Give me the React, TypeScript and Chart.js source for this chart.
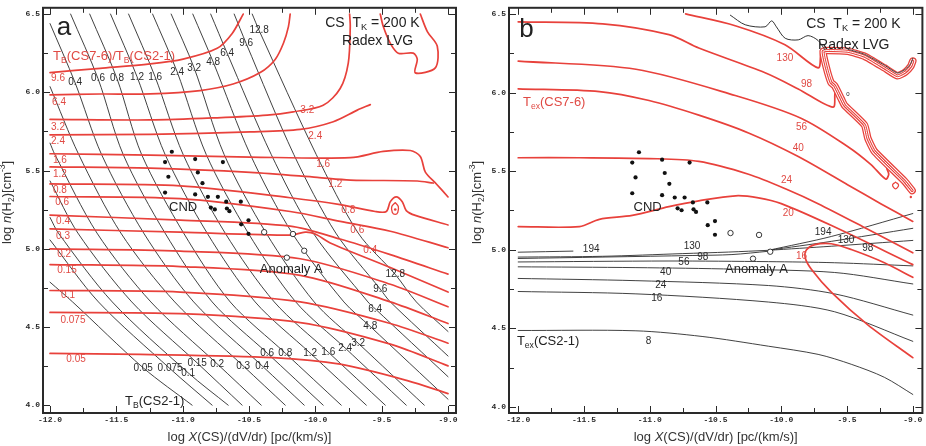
import React, { useEffect, useRef } from 'react';
import { Chart, registerables } from 'chart.js';

Chart.register(...registerables);

type Pt = [number, number];
type Lbl = [string, number, number];

const FONT = "'Liberation Sans', Arial, sans-serif";
const MONO = "'Liberation Mono', 'DejaVu Sans Mono', monospace";
const RED = '#e8413b';
const RED_TEXT = '#e04a44';
const INK = '#2a2a2a';
const LINE_INK = '#2c2c2c';

// ===== axis ranges and ticks =====
const A_X_RANGE: Pt = [-12.053, -8.94];
const A_Y_RANGE: Pt = [3.95, 6.54];
const B_X_RANGE: Pt = [-12.07, -8.927];
const B_Y_RANGE: Pt = [3.961, 6.539];
const TICK_STEP = 0.25;
const LABEL_STEP = 0.5;
const X_TITLE = 'log *X*(CS)/(dV/dr) [pc/(km/s)]';
const Y_TITLE = 'log *n*(H_{2})[cm^{-3}]';

// ===== panel a : T_B(CS2-1) contours (black) =====
const A_TB_0_05: Pt[] = [[-12, 4.786], [-11.83, 4.66], [-11.298, 4.239], [-10.929, 4.0]];
const A_TB_0_075: Pt[] = [[-12, 5.056], [-11.635, 4.66], [-11.095, 4.233], [-10.778, 4.0]];
const A_TB_0_1: Pt[] = [[-12, 5.2], [-11.937, 5.1], [-11.531, 4.66], [-10.959, 4.207], [-10.657, 4.0]];
const A_TB_0_15: Pt[] = [[-12, 5.433], [-11.79, 5.1], [-11.384, 4.66], [-10.891, 4.27], [-10.552, 4.0]];
const A_TB_0_2: Pt[] = [[-12, 5.675], [-11.964, 5.603], [-11.646, 5.1], [-11.24, 4.66], [-10.74, 4.264], [-10.408, 4.0]];
const A_TB_0_3: Pt[] = [[-12, 6.036], [-11.784, 5.603], [-11.466, 5.1], [-11.06, 4.66], [-10.544, 4.251], [-10.227, 4.0]];
const A_TB_0_4: Pt[] = [[-12, 6.439], [-11.811, 6.061], [-11.612, 5.603], [-11.294, 5.1], [-10.917, 4.66], [-10.401, 4.251], [-10.084, 4.0]];
const A_TB_0_6: Pt[] = [[-11.845, 6.5], [-11.638, 6.087], [-11.449, 5.603], [-11.133, 5.1], [-10.778, 4.66], [-10.363, 4.333], [-9.941, 4.0]];
const A_TB_0_8: Pt[] = [[-11.701, 6.5], [-11.495, 6.087], [-11.31, 5.603], [-10.993, 5.1], [-10.642, 4.66], [-10.227, 4.333], [-9.805, 4.0]];
const A_TB_1_2: Pt[] = [[-11.544, 6.5], [-11.344, 6.099], [-11.133, 5.603], [-10.816, 5.1], [-10.454, 4.66], [-10.039, 4.333], [-9.616, 4.0]];
const A_TB_1_6: Pt[] = [[-11.408, 6.5], [-11.208, 6.099], [-10.997, 5.603], [-10.68, 5.1], [-10.31, 4.66], [-9.903, 4.339], [-9.473, 4.0]];
const A_TB_2_4: Pt[] = [[-11.227, 6.5], [-11.042, 6.131], [-10.823, 5.603], [-10.506, 5.1], [-10.148, 4.66], [-9.775, 4.365], [-9.315, 4.0]];
const A_TB_3_2: Pt[] = [[-11.087, 6.5], [-10.914, 6.156], [-10.688, 5.603], [-10.371, 5.1], [-10.009, 4.66], [-9.677, 4.396], [-9.179, 4.0]];
const A_TB_4_8: Pt[] = [[-10.924, 6.5], [-10.77, 6.193], [-10.491, 5.603], [-10.175, 5.1], [-9.785, 4.66], [-9.586, 4.503], [-9.0, 4.038]];
const A_TB_6_4: Pt[] = [[-10.789, 6.5], [-10.665, 6.25], [-10.333, 5.603], [-10.016, 5.1], [-9.604, 4.66], [-9.549, 4.616], [-9.0, 4.182]];
const A_TB_9_6: Pt[] = [[-10.612, 6.5], [-10.522, 6.313], [-10.163, 5.603], [-9.846, 5.1], [-9.511, 4.742], [-9.435, 4.66], [-9.0, 4.314]];
const A_TB_12_8: Pt[] = [[-10.476, 6.5], [-10.424, 6.395], [-9.994, 5.603], [-9.677, 5.1], [-9.398, 4.836], [-9.239, 4.66], [-9.0, 4.471]];

// ===== panel a : T_B(CS7-6)/T_B(CS2-1) contours (red) =====
const A_R_9_6: Pt[] = [[-12, 6.126], [-11.623, 6.153], [-11.246, 6.181], [-10.997, 6.212], [-10.74, 6.281], [-10.627, 6.376], [-10.544, 6.5]];
const A_R_6_4: Pt[] = [[-12, 5.984], [-11.623, 5.989], [-11.246, 5.99], [-10.869, 6.011], [-10.62, 6.053], [-10.416, 6.126], [-10.303, 6.21], [-10.24, 6.315], [-10.203, 6.42], [-10.19, 6.5]];
const A_R_3_2: Pt[] = [[-12, 5.827], [-11.246, 5.823], [-10.74, 5.837], [-10.363, 5.854], [-10.167, 5.875], [-9.941, 5.917], [-9.813, 6.024], [-9.752, 6.187], [-9.737, 6.42], [-9.742, 6.5]];
const A_R_2_4: Pt[] = [[-12, 5.728], [-11.246, 5.731], [-10.491, 5.747], [-10.114, 5.763], [-9.865, 5.812], [-9.684, 5.886], [-9.586, 5.921]];
const A_R_TOP: Pt[] = [[-9.511, 6.5], [-9.488, 6.42], [-9.435, 6.313], [-9.375, 6.25], [-9.262, 6.25], [-9.232, 6.212], [-9.247, 6.124], [-9.096, 6.156], [-9.081, 6.294], [-9.156, 6.388], [-9.209, 6.5]];
const A_R_1_6: Pt[] = [[-12, 5.607], [-11.246, 5.598], [-10.491, 5.586], [-9.737, 5.582], [-9.488, 5.622], [-9.284, 5.628], [-9.209, 5.59], [-9.171, 5.49], [-9.088, 5.414], [-9.0, 5.331]];
const A_R_1_2: Pt[] = [[-12, 5.523], [-11.246, 5.515], [-10.491, 5.488], [-9.986, 5.456], [-9.737, 5.439], [-9.232, 5.433], [-9.111, 5.42]];
const A_R_0_8: Pt[] = [[-12, 5.414], [-11.019, 5.402], [-10.19, 5.326], [-9.813, 5.282], [-9.549, 5.238], [-9.465, 5.238], [-9.435, 5.301], [-9.39, 5.332], [-9.345, 5.301], [-9.315, 5.244], [-9.247, 5.213], [-9.0, 5.152]];
const A_R_LOOP: Pt[] = [[-9.398, 5.295], [-9.375, 5.27], [-9.379, 5.232], [-9.398, 5.219], [-9.42, 5.232], [-9.424, 5.27], [-9.398, 5.295]];
const A_R_LOOP_DOT: Pt[] = [[-9.398, 5.251]];
const A_R_0_6: Pt[] = [[-12, 5.334], [-11.019, 5.32], [-10.19, 5.238], [-9.813, 5.175], [-9.435, 5.112], [-9.0, 5.006]];
const A_R_0_4: Pt[] = [[-12, 5.215], [-11.019, 5.183], [-10.19, 5.144], [-9.813, 5.062], [-9.435, 4.962], [-9.0, 4.838]];
const A_R_0_3: Pt[] = [[-12, 5.127], [-11.019, 5.106], [-10.19, 5.087], [-10.077, 5.106], [-10.001, 5.094], [-9.888, 5.037], [-9.435, 4.88], [-9.0, 4.723]];
const A_R_0_2: Pt[] = [[-12, 4.999], [-11.019, 4.985], [-10.114, 4.936], [-9.435, 4.773], [-9.0, 4.629]];
const A_R_0_15: Pt[] = [[-12, 4.899], [-11.019, 4.886], [-10.114, 4.83], [-9.435, 4.66], [-9.0, 4.522]];
const A_R_0_1: Pt[] = [[-12, 4.733], [-11.019, 4.723], [-10.114, 4.66], [-9.435, 4.522], [-9.0, 4.396]];
const A_R_0_075: Pt[] = [[-12, 4.593], [-11.019, 4.585], [-10.114, 4.528], [-9.435, 4.39], [-9.0, 4.251]];
const A_R_0_05: Pt[] = [[-12, 4.331], [-11.321, 4.325], [-10.318, 4.304], [-9.813, 4.262], [-9.307, 4.157], [-9.0, 4.074]];

// ===== observed positions (both panels) =====
const CND_POINTS: Pt[] = [
  [-11.082, 5.62], [-11.133, 5.554], [-10.906, 5.573], [-10.697, 5.554], [-11.108, 5.46],
  [-10.886, 5.488], [-10.851, 5.419], [-11.133, 5.359], [-10.906, 5.347], [-10.81, 5.332],
  [-10.735, 5.332], [-10.672, 5.301], [-10.562, 5.301], [-10.788, 5.263], [-10.758, 5.251],
  [-10.667, 5.257], [-10.648, 5.24], [-10.504, 5.182], [-10.559, 5.156], [-10.504, 5.095],
];
const ANOMALY_POINTS: Pt[] = [[-10.386, 5.106], [-10.169, 5.094], [-10.084, 4.987], [-10.215, 4.943]];

// ===== panel b : T_ex(CS7-6) contours (red) =====
const B_R_130: Pt[] = [[-10.727, 6.5], [-10.35, 6.425], [-9.972, 6.304], [-9.72, 6.157], [-9.7, 6.25]];
const B_R_98: Pt[] = [[-12, 6.45], [-11.358, 6.437], [-10.854, 6.368], [-10.627, 6.283], [-10.123, 6.126], [-9.871, 6.023], [-9.607, 5.907], [-9.592, 5.993]];
const B_R_56: Pt[] = [[-12, 6.2], [-11.105, 6.148], [-10.35, 5.981], [-9.846, 5.835], [-9.493, 5.655], [-9.32, 5.543], [-9.206, 5.449], [-9.183, 5.48], [-9.198, 5.517]];
const B_R_40: Pt[] = [[-12, 6.023], [-11.383, 6.006], [-11.005, 5.949], [-10.627, 5.856], [-10.249, 5.743], [-9.871, 5.593], [-9.493, 5.412], [-9.244, 5.293], [-9.0, 5.18]];
const B_R_24: Pt[] = [[-12, 5.585], [-11.534, 5.585], [-11.005, 5.58], [-10.627, 5.562], [-10.249, 5.48], [-9.947, 5.38], [-9.72, 5.293], [-9.342, 5.13], [-9.0, 4.98]];
const B_R_20: Pt[] = [[-12, 5.147], [-11.534, 5.147], [-11.383, 5.193], [-11.133, 5.218], [-10.854, 5.274], [-10.627, 5.311], [-10.347, 5.343], [-10.173, 5.33], [-10.0, 5.293], [-9.622, 5.155], [-9.0, 4.905]];
const B_R_16: Pt[] = [[-9.0, 4.824], [-9.216, 4.917], [-9.468, 5.001], [-9.62, 5.038], [-9.745, 5.032], [-9.808, 4.999], [-9.818, 4.949], [-9.771, 4.876], [-9.62, 4.73], [-9.342, 4.522], [-9.0, 4.313]];
const B_R_BAND: Pt[] = [[-9.005, 5.376], [-9.065, 5.438], [-9.292, 5.626], [-9.342, 5.71], [-9.367, 5.793], [-9.518, 5.918], [-9.544, 5.96], [-9.594, 6.043], [-9.622, 6.064], [-9.66, 6.168], [-9.682, 6.262], [-9.645, 6.268], [-9.493, 6.262], [-9.367, 6.231], [-9.216, 6.157], [-9.116, 6.106], [-9.056, 6.131], [-9.015, 6.168], [-9.0, 6.2]];
const B_BAND_EDGE: Pt[] = [[-9.493, 6.275], [-9.367, 6.243], [-9.216, 6.174], [-9.116, 6.124], [-9.056, 6.148], [-9.015, 6.185], [-9.0, 6.218]];
const B_R_LOOP: Pt[] = [[-9.131, 5.43], [-9.108, 5.412], [-9.131, 5.387], [-9.154, 5.412], [-9.131, 5.43]];
const B_R_DOT: Pt[] = [[-9.015, 5.335]];

// ===== panel b : T_ex(CS2-1) contours (black) =====
const B_K_WIGGLE: Pt[] = [[-10.387, 6.492], [-10.274, 6.431], [-10.123, 6.418], [-10.073, 6.456], [-10.037, 6.418], [-9.97, 6.345], [-9.871, 6.335], [-9.796, 6.362], [-9.72, 6.331], [-9.669, 6.273]];
const B_K_194L: Pt[] = [[-12, 4.984], [-11.584, 4.991]];
const B_K_130: Pt[] = [[-12, 4.953], [-11.358, 4.958], [-10.753, 4.975], [-10.4, 4.985], [-10.098, 4.996]];
const B_K_98: Pt[] = [[-12, 4.944], [-10.678, 4.963], [-10.375, 4.969], [-10.098, 4.99]];
const B_K_56: Pt[] = [[-12, 4.922], [-10.854, 4.928], [-10.098, 4.924], [-9.594, 4.917], [-9.0, 4.897]];
const B_K_40: Pt[] = [[-12, 4.891], [-11.105, 4.886], [-10.35, 4.876], [-9.594, 4.855], [-9.0, 4.782]];
const B_K_24: Pt[] = [[-12, 4.817], [-11.105, 4.803], [-10.098, 4.772], [-9.594, 4.719], [-9.0, 4.584]];
const B_K_16: Pt[] = [[-12, 4.734], [-11.105, 4.719], [-10.098, 4.667], [-9.594, 4.605], [-9.0, 4.417]];
const B_K_8: Pt[] = [[-12, 4.486], [-11.105, 4.484], [-10.602, 4.448], [-10.098, 4.386], [-9.72, 4.334], [-9.468, 4.271], [-9.216, 4.188], [-9.0, 4.079]];
const B_K_194R: Pt[] = [[-10.098, 4.996], [-9.62, 5.084], [-9.0, 5.23]];
const B_K_130R: Pt[] = [[-10.098, 4.996], [-9.62, 5.053], [-9.0, 5.136]];
const B_K_98R: Pt[] = [[-10.098, 4.996], [-9.62, 5.022], [-9.0, 5.059]];

// ===== labels =====
const A_TB_LABELS: Lbl[] = [
  ['0.4', -11.811, 6.061], ['0.6', -11.638, 6.087], ['0.8', -11.495, 6.087], ['1.2', -11.344, 6.099],
  ['1.6', -11.208, 6.099], ['2.4', -11.042, 6.131], ['3.2', -10.914, 6.156], ['4.8', -10.77, 6.193],
  ['6.4', -10.665, 6.25], ['9.6', -10.522, 6.313], ['12.8', -10.424, 6.395],
  ['0.05', -11.298, 4.239], ['0.075', -11.095, 4.233], ['0.1', -10.959, 4.207], ['0.15', -10.891, 4.27],
  ['0.2', -10.74, 4.264], ['0.3', -10.544, 4.251], ['0.4', -10.401, 4.251], ['0.6', -10.363, 4.333],
  ['0.8', -10.227, 4.333], ['1.2', -10.039, 4.333], ['1.6', -9.903, 4.339], ['2.4', -9.775, 4.365],
  ['3.2', -9.677, 4.396], ['4.8', -9.586, 4.503], ['6.4', -9.549, 4.616], ['9.6', -9.511, 4.742],
  ['12.8', -9.398, 4.836],
];
const A_RATIO_LABELS: Lbl[] = [
  ['9.6', -11.94, 6.087], ['6.4', -11.932, 5.936], ['3.2', -11.94, 5.779], ['2.4', -11.94, 5.684],
  ['1.6', -11.925, 5.565], ['1.2', -11.925, 5.477], ['0.8', -11.925, 5.376], ['0.6', -11.909, 5.295],
  ['0.4', -11.902, 5.175], ['0.3', -11.902, 5.081], ['0.2', -11.894, 4.962], ['0.15', -11.872, 4.861],
  ['0.1', -11.864, 4.704], ['0.075', -11.827, 4.541], ['0.05', -11.804, 4.295],
  ['3.2', -10.061, 5.886], ['2.4', -10.001, 5.722], ['1.6', -9.941, 5.54], ['1.2', -9.85, 5.414],
  ['0.8', -9.752, 5.244], ['0.6', -9.684, 5.119], ['0.4', -9.586, 4.993],
];
const A_LETTER: Lbl[] = [['a', -11.894, 6.41]];
const A_HEADER: Lbl[] = [['CS  T_{K} = 200 K', -9.926, 6.445], ['Radex LVG', -9.8, 6.325]];
const A_NOTES: Lbl[] = [['CND', -10.997, 5.263], ['Anomaly A', -10.182, 4.867]];
const A_BLACK_NAME: Lbl[] = [['T_{B}(CS2-1)', -11.434, 4.025]];
const A_RED_NAME: Lbl[] = [['T_{B}(CS7-6)/T_{B}(CS2-1)', -11.977, 6.231]];

const B_TEX21_LABELS: Lbl[] = [
  ['194', -11.445, 5.005], ['130', -10.678, 5.022], ['98', -10.597, 4.955], ['56', -10.74, 4.917],
  ['40', -10.879, 4.855], ['24', -10.916, 4.772], ['16', -10.947, 4.688], ['8', -11.01, 4.417],
  ['194', -9.682, 5.109], ['130', -9.508, 5.063], ['98', -9.342, 5.011],
];
const B_TEX76_LABELS: Lbl[] = [
  ['130', -9.972, 6.22], ['98', -9.808, 6.054], ['56', -9.846, 5.782], ['40', -9.871, 5.647],
  ['24', -9.96, 5.443], ['20', -9.947, 5.23], ['16', -9.846, 4.959],
];
const B_SMALL: Lbl[] = [['0', -9.493, 5.991]];
const B_LETTER: Lbl[] = [['b', -11.938, 6.4]];
const B_HEADER: Lbl[] = [['CS  T_{K} = 200 K', -9.811, 6.435], ['Radex LVG', -9.72, 6.3]];
const B_NOTES: Lbl[] = [['CND', -11.016, 5.268], ['Anomaly A', -10.189, 4.876]];
const B_BLACK_NAME: Lbl[] = [['T_{ex}(CS2-1)', -12.01, 4.417]];
const B_RED_NAME: Lbl[] = [['T_{ex}(CS7-6)', -11.964, 5.939]];

// ===== helpers =====
type Part = { t: string; k: 'n' | 'sub' | 'sup' | 'it' };
function parseRich(s: string): Part[] {
  const parts: Part[] = [];
  const re = /_\{([^}]*)\}|\^\{([^}]*)\}|\*([^*]*)\*/g;
  let last = 0;
  let m: RegExpExecArray | null;
  while ((m = re.exec(s))) {
    if (m.index > last) parts.push({ t: s.slice(last, m.index), k: 'n' });
    if (m[1] !== undefined) parts.push({ t: m[1], k: 'sub' });
    else if (m[2] !== undefined) parts.push({ t: m[2], k: 'sup' });
    else parts.push({ t: m[3], k: 'it' });
    last = re.lastIndex;
  }
  if (last < s.length) parts.push({ t: s.slice(last), k: 'n' });
  return parts;
}

function drawRich(ctx: CanvasRenderingContext2D, s: string, x: number, y: number, size: number,
  color: string, align: 'left' | 'center' | 'right', rotate = false) {
  const parts = parseRich(s);
  const fontFor = (k: Part['k']) => {
    const sz = k === 'sub' || k === 'sup' ? size * 0.66 : size;
    return `${k === 'it' ? 'italic ' : ''}${sz}px ${FONT}`;
  };
  let w = 0;
  for (const p of parts) { ctx.font = fontFor(p.k); w += ctx.measureText(p.t).width; }
  ctx.save();
  ctx.translate(x, y);
  if (rotate) ctx.rotate(-Math.PI / 2);
  let cx = align === 'center' ? -w / 2 : align === 'right' ? -w : 0;
  ctx.fillStyle = color;
  ctx.textBaseline = 'middle';
  ctx.textAlign = 'left';
  for (const p of parts) {
    ctx.font = fontFor(p.k);
    const dy = p.k === 'sub' ? size * 0.32 : p.k === 'sup' ? -size * 0.32 : 0;
    ctx.fillText(p.t, cx, dy);
    cx += ctx.measureText(p.t).width;
  }
  ctx.restore();
}

const toXY = (pts: Pt[]) => pts.map(([x, y]) => ({ x, y }));

function line(pts: Pt[], color: string, width: number, tension = 0.3): any {
  return {
    data: toXY(pts), showLine: true, borderColor: color, borderWidth: width, pointRadius: 0,
    pointHoverRadius: 0, tension, fill: false, borderJoinStyle: 'round', borderCapStyle: 'round',
  };
}
function dots(pts: Pt[], r: number, fill: string, stroke: string, bw: number): any {
  return {
    data: toXY(pts), showLine: false, pointRadius: r, pointHoverRadius: r,
    backgroundColor: fill, borderColor: stroke, borderWidth: bw,
  };
}

const isMultiple = (v: number, step: number) => Math.abs(v / step - Math.round(v / step)) < 1e-6;

type TextGroup = { items: Lbl[]; size: number; color: string; align: 'left' | 'center' | 'right' };
type Spec = {
  xRange: Pt; yRange: Pt; datasets: any[]; texts: TextGroup[];
  padding: { left: number; right: number; top: number; bottom: number };
  yAxisWidth: number; yTitleGap: number;
};

function buildConfig(spec: Spec): any {
  const framePlugin = {
    id: 'frameTicks',
    afterDatasetsDraw(chart: any) {
      const { ctx, chartArea: a, scales } = chart;
      ctx.save();
      ctx.strokeStyle = INK;
      ctx.lineWidth = 1;
      ctx.beginPath();
      for (const t of scales.x.ticks) {
        const px = Math.round(scales.x.getPixelForValue(t.value)) + 0.5;
        const len = isMultiple(t.value, LABEL_STEP) ? 7 : 5;
        ctx.moveTo(px, a.bottom); ctx.lineTo(px, a.bottom - len);
        ctx.moveTo(px, a.top); ctx.lineTo(px, a.top + len);
      }
      for (const t of scales.y.ticks) {
        const py = Math.round(scales.y.getPixelForValue(t.value)) + 0.5;
        const len = isMultiple(t.value, LABEL_STEP) ? 7 : 5;
        ctx.moveTo(a.left, py); ctx.lineTo(a.left + len, py);
        ctx.moveTo(a.right, py); ctx.lineTo(a.right - len, py);
      }
      ctx.stroke();
      ctx.lineWidth = 2;
      ctx.strokeRect(a.left, a.top, a.right - a.left, a.bottom - a.top);
      ctx.restore();
    },
  };
  const textPlugin = {
    id: 'texts',
    afterDraw(chart: any) {
      const { ctx, chartArea: a, scales } = chart;
      ctx.save();
      for (const g of spec.texts) {
        for (const [t, x, y] of g.items) {
          drawRich(ctx, t, scales.x.getPixelForValue(x), scales.y.getPixelForValue(y), g.size, g.color, g.align);
        }
      }
      drawRich(ctx, X_TITLE, (a.left + a.right) / 2, chart.height - 9, 13, '#333', 'center');
      drawRich(ctx, Y_TITLE, a.left - spec.yTitleGap, (a.top + a.bottom) / 2 - 8, 13, '#333', 'center', true);
      ctx.restore();
    },
  };
  const tickFont = { family: MONO, size: 8, weight: 'bold' as const };
  const fmt = (v: any) => (isMultiple(Number(v), LABEL_STEP) ? Number(v).toFixed(1) : '');
  return {
    type: 'scatter',
    data: { datasets: spec.datasets },
    options: {
      responsive: false,
      animation: false,
      devicePixelRatio: 1,
      events: [],
      layout: { padding: spec.padding },
      plugins: { legend: { display: false }, tooltip: { enabled: false }, title: { display: false } },
      scales: {
        x: {
          type: 'linear', min: spec.xRange[0], max: spec.xRange[1],
          grid: { display: false, drawTicks: false }, border: { display: false },
          ticks: { stepSize: TICK_STEP, includeBounds: false, autoSkip: false, maxRotation: 0, padding: 2, font: tickFont, color: INK, callback: fmt },
          afterFit: (s: any) => { s.height = 20; },
        },
        y: {
          type: 'linear', min: spec.yRange[0], max: spec.yRange[1],
          grid: { display: false, drawTicks: false }, border: { display: false },
          ticks: { stepSize: TICK_STEP, includeBounds: false, autoSkip: false, padding: 3, font: tickFont, color: INK, callback: fmt },
          afterFit: (s: any) => { s.width = spec.yAxisWidth; },
        },
      },
    },
    plugins: [framePlugin, textPlugin],
  };
}

// datasets are listed bottom-to-top, then reversed (Chart.js paints index 0 last)
const A_BLACK = [A_TB_0_05, A_TB_0_075, A_TB_0_1, A_TB_0_15, A_TB_0_2, A_TB_0_3, A_TB_0_4, A_TB_0_6, A_TB_0_8,
  A_TB_1_2, A_TB_1_6, A_TB_2_4, A_TB_3_2, A_TB_4_8, A_TB_6_4, A_TB_9_6, A_TB_12_8];
const A_RED = [A_R_9_6, A_R_6_4, A_R_3_2, A_R_2_4, A_R_TOP, A_R_1_6, A_R_1_2, A_R_0_8, A_R_0_6, A_R_0_4,
  A_R_0_3, A_R_0_2, A_R_0_15, A_R_0_1, A_R_0_075, A_R_0_05];

const PANEL_A: Spec = {
  xRange: A_X_RANGE, yRange: A_Y_RANGE,
  padding: { left: 0, right: 6, top: 1, bottom: 13 }, yAxisWidth: 43, yTitleGap: 36,
  datasets: [
    ...A_BLACK.map((p) => line(p, LINE_INK, 0.9)),
    ...A_RED.map((p) => line(p, RED, 1.7)),
    line(A_R_LOOP, RED, 1.3, 0.4),
    dots(A_R_LOOP_DOT, 1.3, RED, RED, 0),
    dots(CND_POINTS, 2.1, '#111', '#111', 0),
    dots(ANOMALY_POINTS, 2.7, '#fff', '#222', 0.9),
  ].reverse(),
  texts: [
    { items: A_TB_LABELS, size: 10, color: '#2a2a2a', align: 'center' },
    { items: A_RATIO_LABELS, size: 10, color: RED_TEXT, align: 'center' },
    { items: A_LETTER, size: 26, color: '#222', align: 'center' },
    { items: A_HEADER, size: 14, color: '#222', align: 'left' },
    { items: A_NOTES, size: 13, color: '#222', align: 'center' },
    { items: A_BLACK_NAME, size: 13, color: '#222', align: 'left' },
    { items: A_RED_NAME, size: 13, color: RED_TEXT, align: 'left' },
  ],
};

const B_BLACK = [B_K_194L, B_K_130, B_K_98, B_K_56, B_K_40, B_K_24, B_K_16, B_K_8, B_K_194R, B_K_130R, B_K_98R];
const B_RED = [B_R_130, B_R_98, B_R_56, B_R_40, B_R_24, B_R_20, B_R_16];

const PANEL_B: Spec = {
  xRange: B_X_RANGE, yRange: B_Y_RANGE,
  padding: { left: 0, right: 1, top: 1, bottom: 13 }, yAxisWidth: 44, yTitleGap: 32,
  datasets: [
    ...B_BLACK.map((p) => line(p, LINE_INK, 0.9)),
    ...B_RED.map((p) => line(p, RED, 1.7)),
    line(B_R_BAND, RED, 7.5, 0.15),
    line(B_R_BAND, '#ffffff', 5, 0.15),
    line(B_R_BAND, RED, 3, 0.15),
    line(B_R_BAND, '#ffffff', 1, 0.15),
    line(B_BAND_EDGE, '#444', 1, 0.2),
    line(B_K_WIGGLE, '#333', 1, 0.3),
    line(B_R_LOOP, RED, 1.2, 0.4),
    dots(B_R_DOT, 1.2, RED, RED, 0),
    dots(CND_POINTS, 2.1, '#111', '#111', 0),
    dots(ANOMALY_POINTS, 2.7, '#fff', '#222', 0.9),
  ].reverse(),
  texts: [
    { items: B_TEX21_LABELS, size: 10, color: '#2a2a2a', align: 'center' },
    { items: B_TEX76_LABELS, size: 10, color: RED_TEXT, align: 'center' },
    { items: B_SMALL, size: 6, color: '#222', align: 'center' },
    { items: B_LETTER, size: 26, color: '#222', align: 'center' },
    { items: B_HEADER, size: 14, color: '#222', align: 'left' },
    { items: B_NOTES, size: 13, color: '#222', align: 'center' },
    { items: B_BLACK_NAME, size: 13, color: '#222', align: 'left' },
    { items: B_RED_NAME, size: 13, color: RED_TEXT, align: 'left' },
  ],
};

function Panel({ spec, left, width }: { spec: Spec; left: number; width: number }) {
  const ref = useRef<HTMLCanvasElement>(null);
  useEffect(() => {
    if (!ref.current) return;
    const chart = new Chart(ref.current, buildConfig(spec));
    return () => chart.destroy();
  }, [spec]);
  return (
    <canvas
      ref={ref}
      width={width}
      height={446}
      style={{ position: 'absolute', left, top: 0, width, height: 446 }}
    />
  );
}

export default function App() {
  return (
    <div style={{ position: 'absolute', left: 0, top: 0, width: 926, height: 446, background: '#fff', overflow: 'hidden' }}>
      <Panel spec={PANEL_A} left={0} width={462} />
      <Panel spec={PANEL_B} left={465} width={461} />
    </div>
  );
}
